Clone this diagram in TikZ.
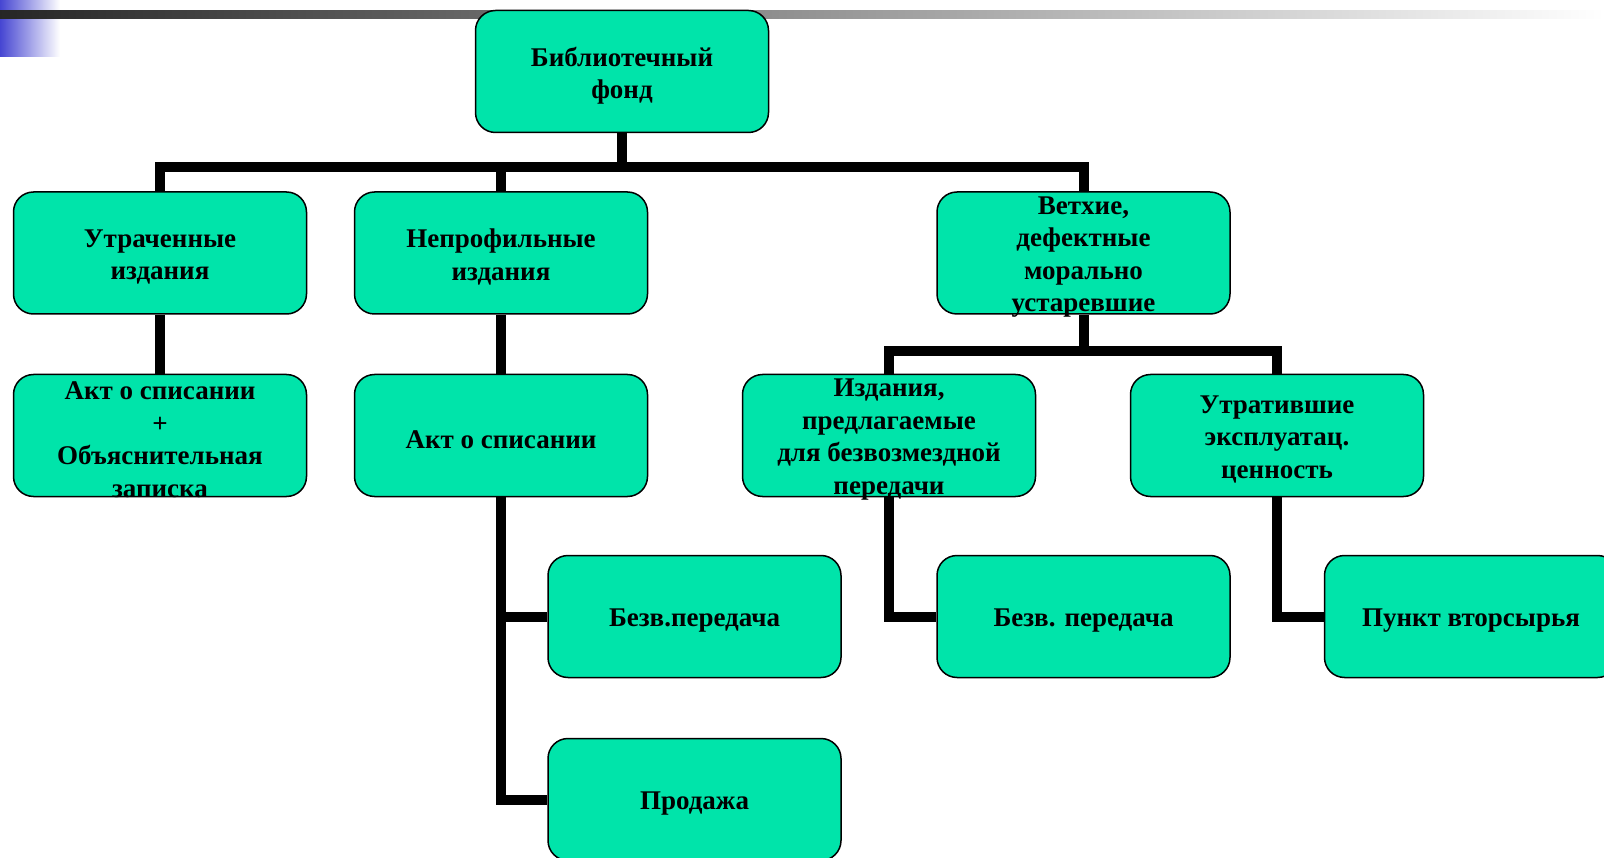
\documentclass[tikz,border=0pt]{standalone}
\usepackage{fontspec}
\setmainfont{Liberation Serif}
\usetikzlibrary{backgrounds}
\definecolor{boxfill}{RGB}{0,228,170}
\definecolor{deckblue}{RGB}{70,70,210}
\newcommand\bxt[1]{\parbox[c][122pt][c]{293pt}{\vspace*{8pt}\centering\bfseries\fontsize{27}{32.5}\selectfont #1}}
\begin{document}
\begin{tikzpicture}[x=1pt,y=-1pt,
  box/.style={draw=black,line width=1.5pt,fill=boxfill,rounded corners=20pt,
    minimum width=293pt,minimum height=122pt,inner sep=0pt},
  conn/.style={line width=10pt,line join=miter,draw=black}]
\useasboundingbox (0,0) rectangle (1604,858);
% nodes
\node[box] (top) at (622,71.5) {\bxt{Библиотечный\\фонд}};
\node[box] (b1) at (160,253) {\bxt{Утраченные\\издания}};
\node[box] (b2) at (501,253) {\bxt{Непрофильные\\издания}};
\node[box] (b3) at (1083.5,253) {\bxt{Ветхие,\\дефектные\\морально\\устаревшие}};
\node[box] (c1) at (160,435.5) {\bxt{Акт о списании\\+\\Объяснительная\\записка}};
\node[box] (c2) at (501,435.5) {\bxt{Акт о списании}};
\node[box] (c3) at (889,435.5) {\bxt{Издания,\\предлагаемые\\для безвозмездной\\передачи}};
\node[box] (c4) at (1277,435.5) {\bxt{Утратившие\\эксплуатац.\\ценность}};
\node[box] (d1) at (694.5,616.5) {\bxt{Безв.передача}};
\node[box] (d2) at (1083.5,616.5) {\bxt{Безв. передача}};
\node[box] (d3) at (1471,616.5) {\bxt{Пункт вторсырья}};
\node[box] (e1) at (694.5,799.5) {\bxt{Продажа}};
\coordinate (bus1) at (622,167);
\coordinate (bus2) at (1083.5,351);
\begin{scope}[on background layer]
  \shade[left color=deckblue, right color=white] (0,0) rectangle (60,57);
  \shade[left color=black!85, middle color=black!26, right color=white] (0,11) rectangle (1604,19);
  \draw[conn] (top.south) -- (bus1);
  \draw[conn] (b1.north) |- (bus1) -| (b3.north);
  \draw[conn] (b2.north) -- (b2.north |- bus1);
  \draw[conn] (b1.south) -- (c1.north);
  \draw[conn] (b2.south) -- (c2.north);
  \draw[conn] (b3.south) -- (bus2);
  \draw[conn] (c3.north) |- (bus2) -| (c4.north);
  \draw[conn] (c2.south) |- (e1.west);
  \draw[conn] (c2.south |- d1.west) -- (d1.west);
  \draw[conn] (c3.south) |- (d2.west);
  \draw[conn] (c4.south) |- (d3.west);
\end{scope}
\end{tikzpicture}
\end{document}
